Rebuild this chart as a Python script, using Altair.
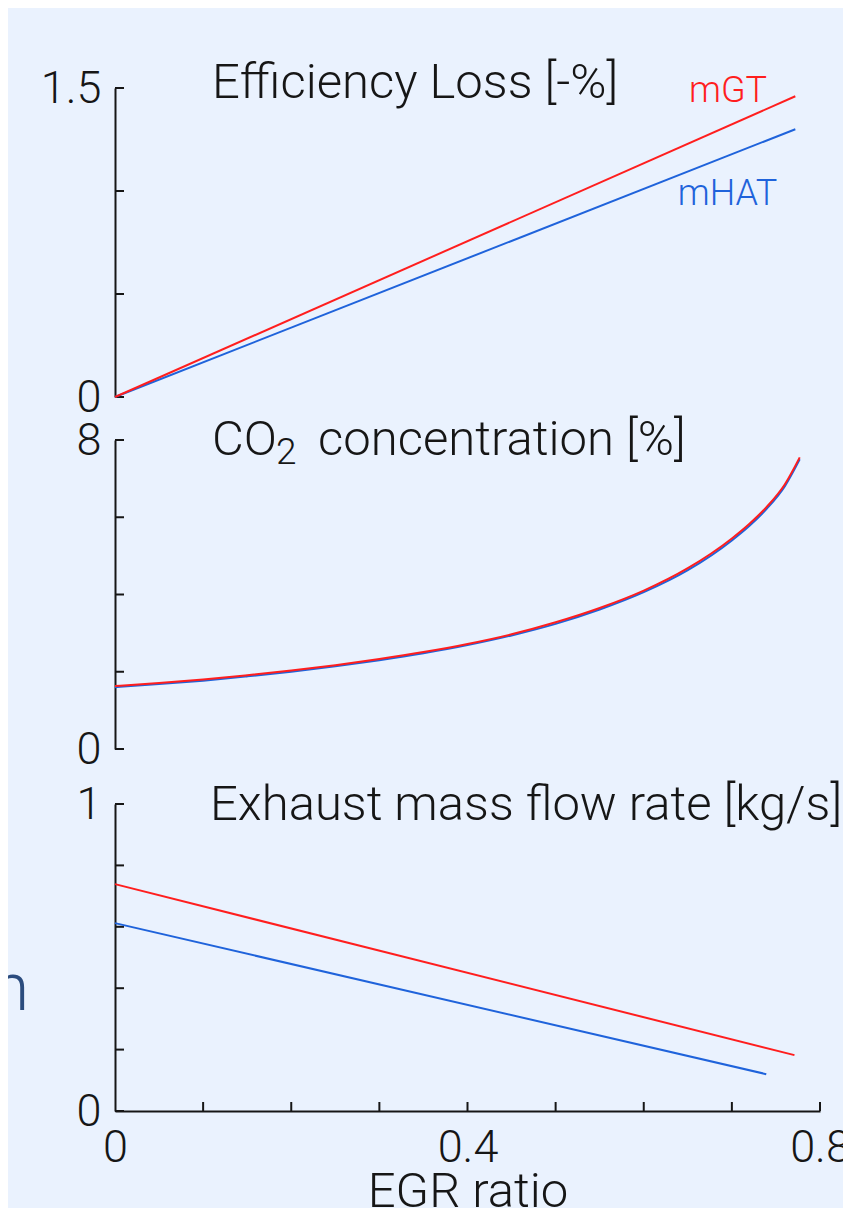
import altair as alt
import pandas as pd

FONT = "Roboto"
WEIGHT = 300
INK = "#161616"
BG = "#EAF2FE"
SLIDE_INK = "#2B4C7E"

SERIES = ["mGT", "mHAT"]
COLORS = {"mGT": "#FF1E1E", "mHAT": "#1F63DB"}

# Panel 1: Efficiency loss [-%]
eff_x_gt = [0.0, 0.772]
eff_y_gt = [0.0, 1.46]
eff_x_hat = [0.0, 0.772]
eff_y_hat = [0.0, 1.30]

# Panel 2: CO2 concentration [%]
co2_x = [0.0, 0.05, 0.1, 0.15, 0.2, 0.25, 0.3, 0.35, 0.4, 0.45, 0.5, 0.55,
         0.6, 0.65, 0.7, 0.72, 0.74, 0.76, 0.777]
co2_gt = [1.63, 1.71, 1.80, 1.91, 2.03, 2.17, 2.33, 2.51, 2.72, 2.97, 3.28, 3.65,
          4.10, 4.68, 5.45, 5.83, 6.28, 6.85, 7.55]
co2_hat = [1.60, 1.68, 1.77, 1.88, 2.00, 2.14, 2.30, 2.48, 2.69, 2.94, 3.24, 3.61,
           4.06, 4.63, 5.40, 5.78, 6.23, 6.80, 7.50]

# Panel 3: Exhaust mass flow rate [kg/s]
exh_x_gt = [0.0, 0.771]
exh_y_gt = [0.739, 0.182]
exh_x_hat = [0.0, 0.739]
exh_y_hat = [0.612, 0.120]

# Axis ticks
eff_ticks = [0.0, 0.5, 1.0, 1.5]
co2_ticks = [0, 2, 4, 6, 8]
exh_ticks = [0.0, 0.2, 0.4, 0.6, 0.8, 1.0]
egr_ticks = [0.1, 0.2, 0.3, 0.4, 0.5, 0.6, 0.7, 0.8]
egr_labels = [0.0, 0.4, 0.8]

# Series labels (panel 1)
lab_text = ["mGT", "mHAT"]
lab_x = [0.6956, 0.695]
lab_y = [1.432, 0.932]

titles = ["Efficiency Loss [-%]", "CO", "2", "concentration [%]",
          "Exhaust mass flow rate [kg/s]"]
slide_fragment = "n"   # cut-off slide text at the left edge

W = 705
H = 309
H3 = 319      # panel 3 group height (axis starts OFF3 px below group top)
OFF3 = 12
XDOM = [0, 0.8]
TSIZE = 49


def line_layer(xs, ys, series, ymax, yaxis, xaxis, yrange=None, interp="linear"):
    df = pd.DataFrame({"egr": xs, "val": ys})
    if yrange is None:
        ysc = alt.Scale(domain=[0, ymax], nice=False)
    else:
        ysc = alt.Scale(domain=[0, ymax], nice=False, range=yrange)
    return alt.Chart(df).mark_line(strokeWidth=2, color=COLORS[series],
                                   interpolate=interp).encode(
        x=alt.X("egr:Q", scale=alt.Scale(domain=XDOM, nice=False, zero=False), axis=xaxis),
        y=alt.Y("val:Q", scale=ysc, axis=yaxis),
    )


def y_axis(ymax):
    return alt.Axis(values=[0, ymax], format="~g", ticks=False, grid=False, title=None,
                    domainColor=INK, domainWidth=2, labelFontSize=45, labelPadding=14,
                    labelColor=INK)


def ytick_layer(vals):
    df = pd.DataFrame({"t": vals})
    return alt.Chart(df).mark_rule(color=INK, strokeWidth=2).encode(
        y=alt.Y("t:Q"), x=alt.value(0), x2=alt.value(9))


def title_layer(text, x, y, size=TSIZE, color=INK, align="left"):
    df = pd.DataFrame({"t": [text]})
    return alt.Chart(df).mark_text(align=align, baseline="alphabetic", font=FONT,
                                   fontWeight=WEIGHT, fontSize=size, color=color).encode(
        text="t:N", x=alt.value(x), y=alt.value(y))


# ---- Panel 1
p1 = alt.layer(
    ytick_layer(eff_ticks),
    line_layer(eff_x_hat, eff_y_hat, "mHAT", 1.5, y_axis(1.5), None),
    line_layer(eff_x_gt, eff_y_gt, "mGT", 1.5, y_axis(1.5), None),
    title_layer(titles[0], 97, 10),
    alt.Chart(pd.DataFrame({"s": lab_text, "x": lab_x, "y": lab_y})).mark_text(
        align="center", baseline="alphabetic", font=FONT, fontWeight=WEIGHT, fontSize=36
    ).encode(
        x="x:Q", y="y:Q", text="s:N",
        color=alt.Color("s:N", scale=alt.Scale(domain=SERIES, range=[COLORS[s] for s in SERIES]),
                        legend=None)),
).properties(width=W, height=H)

# ---- Panel 2
p2 = alt.layer(
    ytick_layer(co2_ticks),
    line_layer(co2_x, co2_hat, "mHAT", 8, y_axis(8), None, interp="monotone"),
    line_layer(co2_x, co2_gt, "mGT", 8, y_axis(8), None, interp="monotone"),
    title_layer(titles[1], 97, 15),
    title_layer(titles[2], 161, 24, 37),
    title_layer(titles[3], 203, 15),
).properties(width=W, height=H)

# ---- Panel 3
xax = alt.Axis(values=egr_labels, format="~g", ticks=False, grid=False, labelFlush=False,
               domainColor=INK, domainWidth=2, labelFontSize=45, labelPadding=14,
               labelColor=INK, title="EGR ratio", titleFontSize=TSIZE, titleFontWeight=WEIGHT,
               titleFont=FONT, titleColor=INK, titlePadding=-3)
xt = alt.Chart(pd.DataFrame({"t": egr_ticks})).mark_rule(color=INK, strokeWidth=2).encode(
    x=alt.X("t:Q"), y=alt.value(H3), y2=alt.value(H3 - 9))
yt3 = alt.Chart(pd.DataFrame({"t": exh_ticks})).mark_rule(color=INK, strokeWidth=2).encode(
    y=alt.Y("t:Q"), x=alt.value(0), x2=alt.value(9))
p3 = alt.layer(
    yt3,
    xt,
    line_layer(exh_x_hat, exh_y_hat, "mHAT", 1, y_axis(1), xax, [H3, OFF3]),
    line_layer(exh_x_gt, exh_y_gt, "mGT", 1, y_axis(1), xax, [H3, OFF3]),
    title_layer(titles[4], 95, OFF3 + 16),
    title_layer(slide_fragment, -86, 218, 66, SLIDE_INK, "right"),
).properties(width=W, height=H3)

chart = alt.vconcat(p1, p2, p3, spacing=43, bounds="flush").properties(
    background=BG,
    padding={"left": -16, "top": 51, "right": -8, "bottom": -8},
).configure_view(stroke=None).configure_axis(
    labelFont=FONT, labelFontWeight=WEIGHT, titleFont=FONT
)

chart.save("out.html", embed_options={"renderer": "svg", "actions": False})
